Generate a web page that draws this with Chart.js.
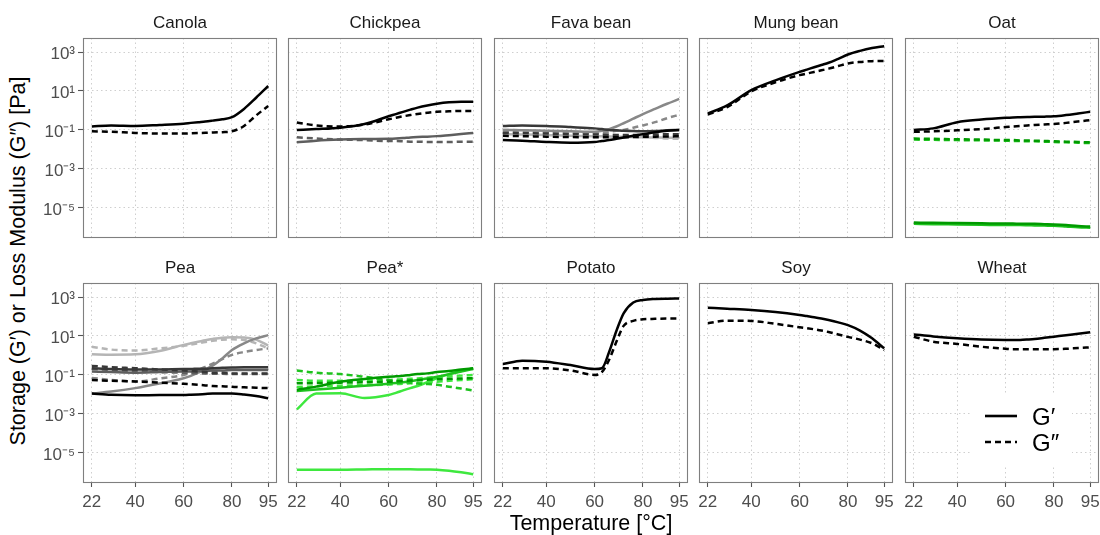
<!DOCTYPE html>
<html>
<head>
<meta charset="utf-8">
<script src="https://cdn.jsdelivr.net/npm/chart.js@4.4.1/dist/chart.umd.min.js"></script>
<style>
html, body { margin:0; padding:0; background:#fff; width:1100px; height:535px; overflow:hidden; }
#wrap { position:relative; width:1100px; height:535px; }
canvas { position:absolute; }
#ytitle { position:absolute; left:18px; top:261px; transform:translate(-50%,-50%) rotate(-90deg); white-space:nowrap; font-family:'Liberation Sans', Arial, sans-serif; font-size:21.5px; color:#000; }
</style>
</head>
<body>
<div id="wrap">
  <div id="ytitle">Storage (G′) or Loss Modulus (G″) [Pa]</div>
</div>
<script>
// Temperatures (°C) at which curves are read
var temps = [22, 30, 40, 50, 60, 63, 66, 69, 72, 76, 80, 85, 90, 95];
var xTicks = [22, 40, 60, 80, 95];
var yTicks = [1e-5, 1e-3, 1e-1, 1e1, 1e3];
var yTickLabels = ['10⁻⁵', '10⁻³', '10⁻¹', '10¹', '10³'];
var panelNames = ['Canola', 'Chickpea', 'Fava bean', 'Mung bean', 'Oat', 'Pea', 'Pea*', 'Potato', 'Soy', 'Wheat'];
var legendLabels = ['G′', 'G″'];

// Canola
var canolaStorage = [0.15, 0.17, 0.16, 0.18, 0.21, 0.23, 0.25, 0.27, 0.3, 0.35, 0.45, 1.2, 4.5, 18];
var canolaLoss    = [0.085, 0.08, 0.07, 0.065, 0.065, 0.067, 0.069, 0.071, 0.073, 0.077, 0.085, 0.16, 0.55, 1.7];

// Chickpea
var chickpeaStorageA = [0.1, 0.11, 0.13, 0.2, 0.5, 0.65, 0.85, 1.1, 1.4, 1.8, 2.2, 2.6, 2.8, 2.8];
var chickpeaLossA    = [0.24, 0.17, 0.15, 0.19, 0.35, 0.42, 0.5, 0.58, 0.66, 0.76, 0.85, 0.9, 0.94, 0.95];
var chickpeaStorageB = [0.023, 0.028, 0.032, 0.034, 0.035, 0.036, 0.038, 0.041, 0.043, 0.045, 0.048, 0.054, 0.061, 0.07];
var chickpeaLossB    = [0.042, 0.036, 0.032, 0.03, 0.027, 0.027, 0.026, 0.025, 0.025, 0.024, 0.024, 0.024, 0.025, 0.025];

// Fava bean
var favaStorageA = [0.03, 0.028, 0.024, 0.022, 0.024, 0.027, 0.03, 0.035, 0.041, 0.05, 0.06, 0.075, 0.09, 0.1];
var favaLossA    = [0.05, 0.048, 0.045, 0.043, 0.042, 0.042, 0.042, 0.042, 0.042, 0.043, 0.044, 0.045, 0.046, 0.047];
var favaStorageB = [0.16, 0.17, 0.16, 0.14, 0.12, 0.11, 0.1, 0.095, 0.09, 0.088, 0.085, 0.088, 0.095, 0.1];
var favaLossB    = [0.07, 0.068, 0.065, 0.06, 0.058, 0.057, 0.056, 0.055, 0.055, 0.055, 0.056, 0.058, 0.06, 0.06];
var favaStorageC = [0.1, 0.095, 0.09, 0.085, 0.08, 0.09, 0.11, 0.15, 0.22, 0.38, 0.65, 1.2, 2.2, 3.9];
var favaLossC    = [0.08, 0.075, 0.07, 0.07, 0.07, 0.075, 0.082, 0.09, 0.1, 0.13, 0.17, 0.25, 0.4, 0.6];
var favaStorageD = [0.06, 0.058, 0.055, 0.05, 0.048, 0.047, 0.046, 0.045, 0.044, 0.043, 0.042, 0.041, 0.04, 0.04];
var favaLossD    = [0.1, 0.095, 0.085, 0.075, 0.065, 0.062, 0.058, 0.054, 0.05, 0.046, 0.042, 0.039, 0.036, 0.035];

// Mung bean
var mungStorage = [0.7, 1.8, 11, 35, 95, 125, 165, 215, 280, 450, 750, 1150, 1600, 2000];
var mungLoss    = [0.62, 1.5, 9.5, 28, 65, 78, 95, 115, 140, 190, 260, 310, 340, 350];

// Oat
var oatStorageA = [0.1, 0.12, 0.25, 0.34, 0.42, 0.44, 0.45, 0.46, 0.47, 0.48, 0.5, 0.58, 0.7, 0.85];
var oatLossA    = [0.08, 0.085, 0.095, 0.11, 0.14, 0.15, 0.16, 0.17, 0.18, 0.19, 0.2, 0.23, 0.27, 0.32];
var oatStorageB = [1.75e-6, 1.7e-6, 1.65e-6, 1.6e-6, 1.55e-6, 1.55e-6, 1.5e-6, 1.5e-6, 1.5e-6, 1.45e-6, 1.4e-6, 1.3e-6, 1.15e-6, 1.1e-6];
var oatLossB    = [0.036, 0.035, 0.033, 0.032, 0.03, 0.03, 0.029, 0.029, 0.028, 0.027, 0.026, 0.025, 0.024, 0.023];
var oatStorageC = [1.5e-6, 1.45e-6, 1.4e-6, 1.35e-6, 1.3e-6, 1.3e-6, 1.3e-6, 1.28e-6, 1.25e-6, 1.22e-6, 1.2e-6, 1.1e-6, 1.0e-6, 0.95e-6];
var oatLossC    = [0.032, 0.031, 0.03, 0.029, 0.028, 0.027, 0.027, 0.026, 0.026, 0.025, 0.024, 0.023, 0.022, 0.021];

// Pea
var peaStorageA = [0.011, 0.0095, 0.009, 0.0092, 0.0093, 0.0096, 0.01, 0.0105, 0.011, 0.011, 0.011, 0.0098, 0.0082, 0.0063];
var peaLossA    = [0.055, 0.05, 0.046, 0.04, 0.035, 0.033, 0.031, 0.029, 0.027, 0.026, 0.025, 0.023, 0.022, 0.021];
var peaStorageB = [0.22, 0.2, 0.19, 0.19, 0.2, 0.2, 0.21, 0.21, 0.22, 0.23, 0.24, 0.25, 0.25, 0.25];
var peaLossB    = [0.29, 0.25, 0.22, 0.19, 0.17, 0.16, 0.15, 0.14, 0.13, 0.13, 0.12, 0.12, 0.12, 0.12];
var peaStorageC = [0.15, 0.14, 0.13, 0.14, 0.15, 0.15, 0.16, 0.16, 0.17, 0.17, 0.18, 0.18, 0.18, 0.18];
var peaLossC    = [0.2, 0.18, 0.16, 0.14, 0.13, 0.125, 0.12, 0.12, 0.115, 0.115, 0.11, 0.11, 0.11, 0.11];
var peaStorageD = [0.011, 0.014, 0.021, 0.036, 0.068, 0.09, 0.13, 0.19, 0.3, 0.7, 1.9, 4.2, 7.5, 11];
var peaLossD    = [0.07, 0.055, 0.046, 0.065, 0.1, 0.13, 0.18, 0.26, 0.38, 0.65, 1.07, 1.5, 1.9, 2.3];
var peaStorageE = [1.15, 1.1, 1.15, 1.7, 3.5, 4.2, 5.0, 6.0, 7.0, 8.2, 8.6, 8.4, 6.5, 3.2];
var peaLossE    = [2.8, 2.0, 1.8, 2.3, 3.1, 3.6, 4.2, 4.9, 5.6, 6.4, 6.7, 6.2, 4.2, 2.3];

// Pea*
var peaStarStorageA = [0.017, 0.025, 0.045, 0.062, 0.08, 0.085, 0.09, 0.1, 0.11, 0.12, 0.14, 0.16, 0.19, 0.22];
var peaStarLossA    = [0.037, 0.038, 0.04, 0.042, 0.045, 0.047, 0.049, 0.051, 0.054, 0.057, 0.06, 0.063, 0.066, 0.068];
var peaStarStorageB = [0.015, 0.018, 0.022, 0.028, 0.035, 0.038, 0.042, 0.048, 0.055, 0.065, 0.08, 0.11, 0.15, 0.2];
var peaStarLossB    = [0.17, 0.13, 0.11, 0.08, 0.055, 0.05, 0.045, 0.04, 0.036, 0.034, 0.031, 0.025, 0.02, 0.016];
var peaStarStorageC = [0.0017, 0.011, 0.0115, 0.0065, 0.0093, 0.012, 0.016, 0.021, 0.027, 0.042, 0.068, 0.11, 0.16, 0.22];
var peaStarLossC    = [0.055, 0.05, 0.05, 0.052, 0.055, 0.058, 0.06, 0.063, 0.066, 0.072, 0.078, 0.085, 0.092, 0.1];
var peaStarStorageD = [1.35e-6, 1.35e-6, 1.35e-6, 1.4e-6, 1.45e-6, 1.45e-6, 1.45e-6, 1.42e-6, 1.4e-6, 1.38e-6, 1.35e-6, 1.2e-6, 1e-6, 8e-7];
var peaStarLossD    = [0.024, 0.026, 0.028, 0.03, 0.032, 0.034, 0.035, 0.037, 0.039, 0.042, 0.045, 0.05, 0.055, 0.06];

// Potato
var potatoStorage = [0.36, 0.54, 0.48, 0.32, 0.2, 0.22, 1.5, 18, 145, 520, 700, 790, 820, 830];
var potatoLoss    = [0.22, 0.22, 0.22, 0.17, 0.1, 0.14, 0.6, 5, 33, 60, 72, 76, 78, 78];

// Soy
var soyStorage = [280, 250, 215, 170, 120, 105, 92, 79, 66, 50, 36, 19, 7.6, 2.3];
var soyLoss    = [45, 61, 59, 42, 28, 25, 22, 19, 16, 12, 9, 6.5, 4.2, 1.9];

// Wheat
var wheatStorage = [12, 9.5, 7.6, 6.5, 6.2, 6.2, 6.3, 6.6, 7, 8, 9.2, 11, 13, 15.5];
var wheatLoss    = [9.2, 5.1, 3.9, 2.8, 2.2, 2.1, 2.1, 2.1, 2.1, 2.1, 2.1, 2.2, 2.4, 2.6];

// colours for each sample shade
var palette = {
    black: '#000000', dark: '#383838', dim: '#5e5e5e', mid: '#888888', light: '#b5b5b5',
    green1: '#009a00', green2: '#1ec21e', green3: '#3ee83e'
};

// which series go in which panel: [storage, loss, shade]
var panelSeries = [
    [[canolaStorage, canolaLoss, 'black']],
    [[chickpeaStorageA, chickpeaLossA, 'black'], [chickpeaStorageB, chickpeaLossB, 'dim']],
    [[favaStorageA, favaLossA, 'black'], [favaStorageB, favaLossB, 'dark'], [favaStorageC, favaLossC, 'mid'], [favaStorageD, favaLossD, 'light']],
    [[mungStorage, mungLoss, 'black']],
    [[oatStorageA, oatLossA, 'black'], [oatStorageB, oatLossB, 'green1'], [oatStorageC, oatLossC, 'green2']],
    [[peaStorageA, peaLossA, 'black'], [peaStorageB, peaLossB, 'dark'], [peaStorageC, peaLossC, 'dim'], [peaStorageD, peaLossD, 'mid'], [peaStorageE, peaLossE, 'light']],
    [[peaStarStorageA, peaStarLossA, 'green1'], [peaStarStorageB, peaStarLossB, 'green2'], [peaStarStorageC, peaStarLossC, 'green3'], [peaStarStorageD, peaStarLossD, 'green3']],
    [[potatoStorage, potatoLoss, 'black']],
    [[soyStorage, soyLoss, 'black']],
    [[wheatStorage, wheatLoss, 'black']]
];

var FONT = "'Liberation Sans', Arial, sans-serif";
var boxW = 194, boxH = 200, stripH = 26;
var colLeft = [83, 288, 494, 699, 905];
var rowTop = [38, 283];
var xMin = 18.35, xMax = 98.65;
var yMin = Math.pow(10, -6.55), yMax = Math.pow(10, 3.72);
var gridColor = '#cfcfcf';
var tickColor = '#555555';
var tickText = '#4d4d4d';

function toPoints(vals)
{
    return vals.map(function(v, i) { return {x: temps[i], y: v}; });
}

// panel border on top of the lines, strip label above
var boxPlugin = {
    id: 'panelBox',
    afterDatasetsDraw: function(chart, args, opts)
    {
        var a = chart.chartArea, ctx = chart.ctx;
        ctx.save();
        ctx.strokeStyle = '#7f7f7f';
        ctx.lineWidth = 1.1;
        ctx.strokeRect(a.left + 0.5, a.top + 0.5, a.right - a.left - 1, a.bottom - a.top - 1);
        ctx.fillStyle = '#1a1a1a';
        ctx.font = '17px ' + FONT;
        ctx.textAlign = 'center';
        ctx.textBaseline = 'middle';
        ctx.fillText(opts.text, (a.left + a.right) / 2, a.top - 15);
        ctx.restore();
    }
};

// legend drawn inside the Wheat panel
var legendPlugin = {
    id: 'insideLegend',
    afterDatasetsDraw: function(chart)
    {
        var a = chart.chartArea, ctx = chart.ctx;
        var x0 = a.left, y0 = a.top;
        ctx.save();
        ctx.fillStyle = '#ffffff';
        ctx.fillRect(x0 + 67, y0 + 110, 100, 72);
        ctx.strokeStyle = '#000';
        ctx.lineWidth = 2.6;
        ctx.beginPath();
        ctx.moveTo(x0 + 80, y0 + 133); ctx.lineTo(x0 + 112, y0 + 133);
        ctx.stroke();
        ctx.setLineDash([6, 4]);
        ctx.beginPath();
        ctx.moveTo(x0 + 80, y0 + 159); ctx.lineTo(x0 + 112, y0 + 159);
        ctx.stroke();
        ctx.setLineDash([]);
        ctx.fillStyle = '#000';
        ctx.font = '24px ' + FONT;
        ctx.textBaseline = 'middle';
        ctx.fillText(legendLabels[0], x0 + 127, y0 + 135);
        ctx.fillText(legendLabels[1], x0 + 127, y0 + 161);
        ctx.restore();
    }
};

var wrap = document.getElementById('wrap');

panelNames.forEach(function(name, i)
{
    var r = Math.floor(i / 5), c = i % 5;
    var axisW = c == 0 ? 83 : 0;
    var lpad = c == 0 ? 0 : 12;
    var rpad = 12;
    var padB = r == 1 ? 535 - (rowTop[1] + boxH) : 16;
    var w = axisW + lpad + boxW + rpad;
    var h = stripH + boxH + padB;

    var cv = document.createElement('canvas');
    cv.width = w; cv.height = h;
    cv.style.width = w + 'px'; cv.style.height = h + 'px';
    cv.style.left = (colLeft[c] - axisW - lpad) + 'px';
    cv.style.top = (rowTop[r] - stripH) + 'px';
    wrap.appendChild(cv);

    var datasets = [];
    panelSeries[i].forEach(function(s)
    {
        var col = palette[s[2]];
        if (s[0]) datasets.push({ label: name + ' G′', data: toPoints(s[0]), borderColor: col, borderWidth: 2.5, borderDash: [], pointRadius: 0, cubicInterpolationMode: 'monotone', fill: false });
        if (s[1]) datasets.push({ label: name + ' G″', data: toPoints(s[1]), borderColor: col, borderWidth: 2.5, borderDash: [6, 4], pointRadius: 0, cubicInterpolationMode: 'monotone', fill: false });
    });

    var plugins = [boxPlugin];
    if (name == 'Wheat') plugins.push(legendPlugin);

    new Chart(cv.getContext('2d'), {
        type: 'line',
        data: { datasets: datasets },
        plugins: plugins,
        options: {
            responsive: false,
            animation: false,
            events: [],
            layout: { padding: { left: lpad, right: rpad, top: stripH, bottom: 0 } },
            plugins: {
                legend: { display: false },
                tooltip: { enabled: false },
                panelBox: { text: name }
            },
            scales: {
                x: {
                    type: 'linear', min: xMin, max: xMax,
                    afterBuildTicks: function(s) { s.ticks = xTicks.map(function(v) { return {value: v}; }); },
                    afterFit: function(s) { s.height = padB; },
                    ticks: { display: r == 1, autoSkip: false, maxRotation: 0, color: tickText, padding: 5,
                             font: { size: 17, family: FONT }, callback: function(v) { return String(v); } },
                    grid: { color: gridColor, lineWidth: 1, drawTicks: r == 1, tickLength: 4, tickColor: tickColor, tickWidth: 1.1, tickBorderDash: [] },
                    border: { display: false, dash: [1.5, 3] },
                    title: { display: name == 'Potato', text: 'Temperature [°C]', color: '#000',
                             font: { size: 21.5, family: FONT, lineHeight: 1.0 }, padding: { top: 0, bottom: 0 } }
                },
                y: {
                    type: 'logarithmic', min: yMin, max: yMax,
                    afterBuildTicks: function(s) { s.ticks = yTicks.map(function(v) { return {value: v}; }); },
                    afterFit: function(s) { s.width = axisW; },
                    ticks: { display: c == 0, autoSkip: false, color: tickText, padding: 3, labelOffset: 2,
                             font: { size: 17, family: FONT }, callback: function(v, idx) { return yTickLabels[idx]; } },
                    grid: { color: gridColor, lineWidth: 1, drawTicks: c == 0, tickLength: 5, tickColor: tickColor, tickWidth: 1.1, tickBorderDash: [] },
                    border: { display: false, dash: [1.5, 3] }
                }
            }
        }
    });
});
</script>
</body>
</html>
